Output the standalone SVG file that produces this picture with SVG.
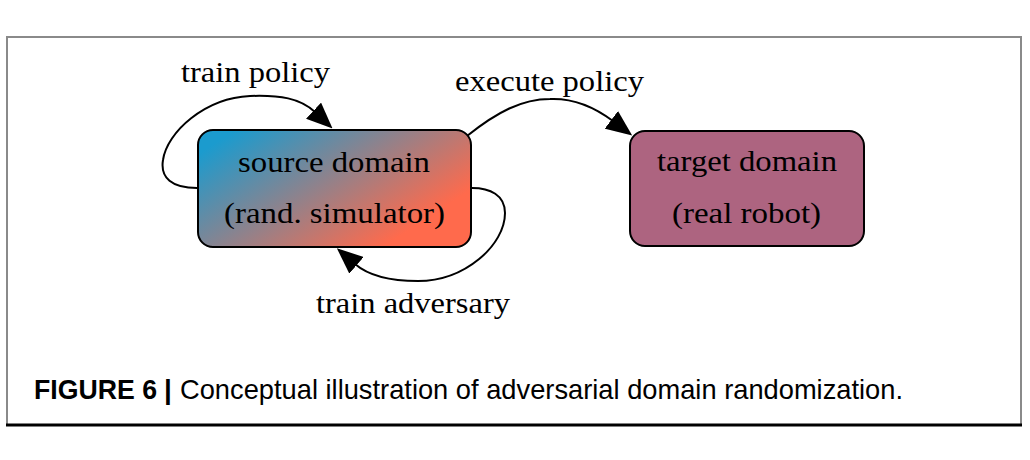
<svg xmlns="http://www.w3.org/2000/svg" width="1030" height="460" viewBox="0 0 1030 460">
<style>
.lbl{font-family:"Liberation Serif","Times New Roman",serif;font-size:30px;fill:#000}
.edge{fill:none;stroke:#000;stroke-width:2}
.node{stroke:#000;stroke-width:2}
.cap{font-family:"Liberation Sans",Arial,sans-serif;font-size:28px;fill:#000}
</style>
<defs>
<linearGradient id="srcGrad" gradientUnits="userSpaceOnUse" x1="261" y1="113" x2="359" y2="263">
<stop offset="0" stop-color="#1B9BCE"/>
<stop offset="1" stop-color="#FF6A4C"/>
</linearGradient>
<marker id="arrow" markerUnits="userSpaceOnUse" viewBox="0 0 26 22" markerWidth="26" markerHeight="22" refX="2" refY="11" orient="auto">
<path d="M0,0 L26,11 L0,22 z" fill="#000"/>
</marker>
</defs>
<rect width="1030" height="460" fill="#fff"/>
<g id="frame">
<path d="M7,425 V37 H1021 V425" fill="none" stroke="#8a8a8a" stroke-width="2"/>
<line x1="6" y1="425" x2="1022" y2="425" stroke="#000" stroke-width="3"/>
</g>
<g id="connectors">
<path class="edge" d="M197,188 C172,188 160,178 163,160 C167,132 205,98 250,96 C280,95 300,98 315,112" marker-end="url(#arrow)"/>
<path class="edge" d="M472,188 C490,188 505,195 505,213 C505,245 465,281 418,281 C395,281 370,277 355,264" marker-end="url(#arrow)"/>
<path class="edge" d="M467,136 C497,112 522,99 550,99 C572,98 593,106 613,121" marker-end="url(#arrow)"/>
<text class="lbl" x="181" y="82" textLength="149" lengthAdjust="spacingAndGlyphs">train policy</text>
<text class="lbl" x="455" y="91" textLength="189" lengthAdjust="spacingAndGlyphs">execute policy</text>
<text class="lbl" x="316" y="313" textLength="194" lengthAdjust="spacingAndGlyphs">train adversary</text>
</g>
<g id="source">
<rect class="node" x="198" y="130" width="273" height="117" rx="15" fill="url(#srcGrad)"/>
<text class="lbl" x="238" y="172" textLength="192" lengthAdjust="spacingAndGlyphs">source domain</text>
<text class="lbl" x="224" y="223" textLength="221" lengthAdjust="spacingAndGlyphs">(rand. simulator)</text>
</g>
<g id="target">
<rect class="node" x="630" y="131" width="234" height="115" rx="15" fill="#AD6480"/>
<text class="lbl" x="657" y="171" textLength="180" lengthAdjust="spacingAndGlyphs">target domain</text>
<text class="lbl" x="672" y="223" textLength="149" lengthAdjust="spacingAndGlyphs">(real robot)</text>
</g>
<g id="caption">
<text class="cap" x="34" y="399" font-weight="bold" textLength="123" lengthAdjust="spacingAndGlyphs">FIGURE 6</text>
<text class="cap" x="164" y="399" font-weight="bold">|</text>
<text class="cap" x="180" y="399" textLength="723" lengthAdjust="spacingAndGlyphs">Conceptual illustration of adversarial domain randomization.</text>
</g>
</svg>
